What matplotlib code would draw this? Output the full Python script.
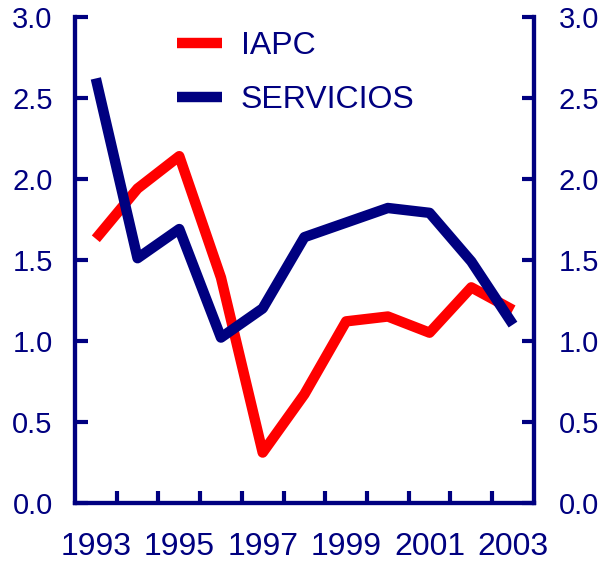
import matplotlib.pyplot as plt
import numpy as np

# donnees
annees = [1993, 1994, 1995, 1996, 1997, 1998, 1999, 2000, 2001, 2002, 2003]
iapc = [1.63, 1.94, 2.14, 1.39, 0.31, 0.67, 1.12, 1.15, 1.05, 1.33, 1.19]
servicios = [2.62, 1.51, 1.69, 1.02, 1.20, 1.64, 1.73, 1.82, 1.79, 1.49, 1.10]
yticks = [0.0, 0.5, 1.0, 1.5, 2.0, 2.5, 3.0]

NAVY = '#000080'
ROUGE = '#ff0000'
plt.rcParams['font.family'] = ['Liberation Sans', 'DejaVu Sans']

fig = plt.figure(figsize=(6.07, 5.63), dpi=100)
ax = fig.add_axes([0.1235, 0.107, 0.756, 0.863])

x = np.arange(len(annees))
ax.plot(x, iapc, color=ROUGE, linewidth=7.5, label='IAPC', solid_capstyle='butt')
ax.plot(x, servicios, color=NAVY, linewidth=7.5, label='SERVICIOS', solid_capstyle='butt')

ax.set_xlim(-0.5, len(annees) - 0.5)
ax.set_ylim(0, 3.0)

# graduations entre les annees, etiquettes une annee sur deux
ax.set_xticks(x[:-1] + 0.5)
ax.set_xticklabels([])
ax.set_xticks(x[::2], minor=True)
ax.set_xticklabels([str(a) for a in annees[::2]], minor=True)
ax.tick_params(axis='x', which='major', direction='in', length=9, width=3, color=NAVY)
ax.tick_params(axis='x', which='minor', length=0, pad=21, labelsize=23, labelcolor=NAVY)

ax.set_yticks(yticks)
ax.set_yticklabels([f'{v:.1f}' for v in yticks])
ax.tick_params(axis='y', direction='in', length=9, width=3, color=NAVY,
               labelsize=21, labelcolor=NAVY, pad=16)

ax2 = ax.twinx()
ax2.set_ylim(0, 3.0)
ax2.set_yticks(yticks)
ax2.set_yticklabels([f'{v:.1f}' for v in yticks])
ax2.tick_params(axis='y', direction='in', length=9, width=3, color=NAVY,
                labelsize=21, labelcolor=NAVY, pad=18)

for a in (ax, ax2):
    a.spines['top'].set_visible(False)
    for s in ('left', 'right', 'bottom'):
        a.spines[s].set_color(NAVY)
        a.spines[s].set_linewidth(3)

leg = ax.legend(loc='upper left', bbox_to_anchor=(0.16, 1.03), frameon=False,
                fontsize=23, handlelength=1.4, handletextpad=0.6, labelspacing=0.75)
for t in leg.get_texts():
    t.set_color(NAVY)

fig.savefig('out.png', dpi=100)
